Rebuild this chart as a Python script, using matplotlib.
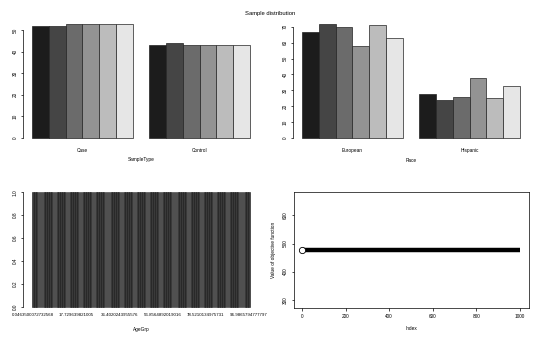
import matplotlib
matplotlib.use("Agg")
import matplotlib.pyplot as plt
import numpy as np

plt.rcParams['font.family'] = ['Liberation Sans', 'DejaVu Sans']

# sample counts per group (6 series each)
sample_types = ['Case', 'Control']
sample_counts = [
    [52, 52, 53, 53, 53, 53],
    [43, 44, 43, 43, 43, 43],
]
races = ['European', 'Hispanic']
race_counts = [
    [67, 72, 70, 58, 71, 63],
    [28, 24, 26, 38, 25, 33],
]
bar_colors = ['#1c1c1c', '#454545', '#6b6b6b', '#939393', '#bcbcbc', '#e6e6e6']

# raw AgeGrp values (each unique)
age_values = [
    0.0463500072732568, 0.97, 1.85, 2.61, 3.52, 4.48, 5.21, 6.07, 6.93, 7.88, 8.64,
    9.71, 10.45, 11.38, 12.29, 13.16, 14.02, 14.97, 15.83, 16.81,
    17.729639821005, 18.62, 19.57, 20.41, 21.36, 22.29, 23.15, 24.08, 25.02, 25.94,
    26.87, 27.79, 28.66, 29.63, 30.55, 31.42, 32.38, 33.27, 34.19, 35.48,
    36.4020243955576, 37.41, 38.53, 39.46, 40.52, 41.58, 42.49, 43.61, 44.57, 45.63,
    46.71, 47.68, 48.74, 49.79, 50.82, 51.86, 52.91, 53.88, 54.83, 55.91,
    56.8564892019016, 57.94, 59.07, 60.11, 61.23, 62.28, 63.37, 64.45, 65.52, 66.61,
    67.69, 68.74, 69.83, 70.92, 71.98, 73.05, 74.14, 75.26, 76.33, 77.42,
    78.5210134975731, 79.47, 80.39, 81.31, 82.27, 83.18, 84.09, 85.01, 85.94, 86.87,
    87.79, 88.71, 89.64, 90.55, 91.47, 92.38, 93.32, 94.23, 95.16, 96.07,
    96.9865794777797,
]

# objective function trace
obj_index = [1, 1000]
obj_values = [478, 478]

W, H = 540, 338
fig = plt.figure(figsize=(W / 100, H / 100), dpi=100)
fs = 3.4


def box(x0, x1, y0, y1):
    return [x0 / W, 1 - y1 / H, (x1 - x0) / W, (y1 - y0) / H]


def ftext(x, y, s, size=fs, **kw):
    fig.text(x / W, 1 - y / H, s, ha='center', va='center', fontsize=size, **kw)


def style(ax):
    for s in ['top', 'right', 'bottom']:
        ax.spines[s].set_visible(False)
    ax.spines['left'].set_linewidth(0.5)
    ax.tick_params(axis='y', length=1.8, width=0.5, pad=2.3, labelsize=fs)
    ax.tick_params(axis='x', length=0, labelsize=fs)
    for t in ax.get_yticklabels():
        t.set_rotation(90)
        t.set_va('center')
    ax.patch.set_visible(False)


def grouped(ax, names, counts, yticks):
    for g, vals in enumerate(counts):
        start = 1 + g * 7
        xs = [start + i + 0.5 for i in range(len(vals))]
        ax.bar(xs, vals, width=1, color=bar_colors, edgecolor='#222222', linewidth=0.5)
    top = max(max(v) for v in counts)
    ax.set_xlim(1 - 0.52, 14 + 0.52)
    ax.set_ylim(-0.04 * top, top * 1.04)
    ax.set_xticks([4, 11])
    ax.set_xticklabels(names)
    ax.set_yticks(yticks)
    ax.spines['left'].set_bounds(yticks[0], yticks[-1])
    style(ax)
    ax.tick_params(axis='x', pad=4)


ax1 = fig.add_axes(box(23.3, 258.7, 19, 142.6))
grouped(ax1, sample_types, sample_counts, [0, 10, 20, 30, 40, 50])
ftext(141, 160, 'SampleType')

ax2 = fig.add_axes(box(293.3, 528.7, 19, 142.6))
grouped(ax2, races, race_counts, [0, 10, 20, 30, 40, 50, 60, 70])
ftext(411, 160, 'Race')

ftext(270, 14, 'Sample distribution', size=4.2)

# AgeGrp table
ages, age_counts = np.unique(np.array(age_values), return_counts=True)
n = len(ages)
ax3 = fig.add_axes(box(23.3, 258.7, 187.7, 311.3))
pos = 0.2 + np.arange(n) * 1.2 + 0.5
ax3.bar(pos, age_counts, width=1, color='#3a3a3a', edgecolor='#151515', linewidth=0.4)
span = n * 1.2 - 0.2
ax3.set_xlim(0.2 - 0.04 * span, n * 1.2 + 0.04 * span)
ax3.set_ylim(-0.04, 1.04)
lab_idx = [0, 20, 40, 60, 80, 100]
ax3.set_xticks(pos[lab_idx])
ax3.set_xticklabels([repr(float(ages[i])) for i in lab_idx])
ax3.set_yticks([0, 0.2, 0.4, 0.6, 0.8, 1.0])
ax3.set_yticklabels(['0.0', '0.2', '0.4', '0.6', '0.8', '1.0'])
ax3.spines['left'].set_bounds(0, 1)
style(ax3)
ax3.tick_params(axis='x', pad=1.5, labelsize=3.2)
ftext(141, 329, 'AgeGrp')

# objective trace
ax4 = fig.add_axes(box(293.5, 528.7, 191.7, 307.7))
ax4.plot(obj_index, obj_values, color='black', linewidth=3.2, solid_capstyle='butt')
ax4.plot(obj_index[0], obj_values[0], 'o', mfc='white', mec='black', ms=4.5, mew=0.6)
span = obj_index[-1] - obj_index[0]
ax4.set_xlim(obj_index[0] - 0.04 * span, obj_index[-1] + 0.04 * span)
lo, hi = obj_values[0] * 0.6, obj_values[0] * 1.4
ax4.set_ylim(lo - 0.04 * (hi - lo), hi + 0.04 * (hi - lo))
ax4.set_xticks([0, 200, 400, 600, 800, 1000])
ax4.set_yticks([300, 400, 500, 600])
for s in ax4.spines.values():
    s.set_linewidth(0.5)
ax4.tick_params(length=1.8, width=0.5, labelsize=fs)
ax4.tick_params(axis='y', pad=2.3)
ax4.tick_params(axis='x', pad=2.8)
for t in ax4.get_yticklabels():
    t.set_rotation(90)
    t.set_va('center')
ftext(411, 329, 'Index')
ftext(273, 250, 'Value of objective function', rotation=90)

fig.savefig('out.png', dpi=100)
